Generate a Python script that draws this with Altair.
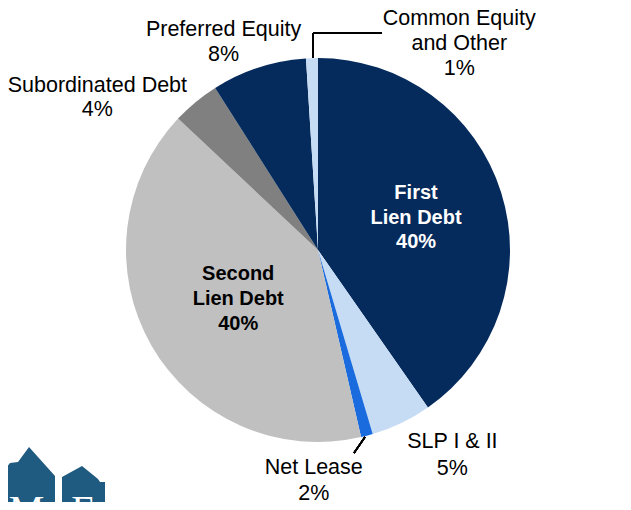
import altair as alt
import pandas as pd

# ---------------- data ----------------
categories = ["First Lien Debt", "SLP I & II", "Net Lease", "Second Lien Debt",
              "Subordinated Debt", "Preferred Equity", "Common Equity and Other"]
shares = [40.3, 5.1, 1.0, 40.6, 4.0, 8.0, 1.0]
label_texts = ["First\nLien Debt\n40%", "SLP I & II\n5%", "Net Lease\n2%",
               "Second\nLien Debt\n40%", "Subordinated Debt\n4%",
               "Preferred Equity\n8%", "Common Equity\nand Other\n1%"]
colors = ["#052B5C", "#C6DCF5", "#1A6BDD", "#C0C0C0", "#808080", "#052B5C", "#C6DCF5"]

# decorative logo outline (bottom-left corner)
logo_x = [-8, 2, 10, 21, 47, 54, 74, 90, 92, 97]
logo_y = [468, 455, 454, 439, 468, 469, 458, 471, 474, 474]
logo_part = ["a", "a", "a", "a", "a", "b", "b", "b", "b", "b"]
logo_letters = ["M", "E"]
logo_letter_x = [18.5, 75.5]

df = pd.DataFrame({"category": categories, "share": shares,
                   "label": label_texts, "order": list(range(len(categories)))})
logo_df = pd.DataFrame({"x": logo_x, "y": logo_y, "part": logo_part})
letters_df = pd.DataFrame({"letter": logo_letters, "x": logo_letter_x})

# ---------------- layout ----------------
W, H = 615, 494
CX, CY = 310, 242
R = 192
FONT = "Liberation Sans"
total = sum(shares)
theta_scale = alt.Scale(domain=[0, total])

base = alt.Chart(df)

pie = base.mark_arc(outerRadius=R).encode(
    theta=alt.Theta("share:Q", stack=True, scale=theta_scale),
    color=alt.Color("category:N", scale=alt.Scale(domain=categories, range=colors), legend=None),
    order=alt.Order("order:Q"),
    x=alt.value(CX),
    y=alt.value(CY),
)


def label_layer(cat, radius, dx, dy, size, weight, color, lh):
    return (
        base.transform_window(cum="sum(share)", sort=[alt.SortField("order")], frame=[None, 0])
        .transform_calculate(mid="datum.cum - datum.share / 2")
        .transform_filter(alt.datum.category == cat)
        .mark_text(radius=radius, dx=dx, dy=dy, fontSize=size, fontWeight=weight,
                   color=color, lineBreak="\n", lineHeight=lh, align="center",
                   baseline="alphabetic", font=FONT)
        .encode(theta=alt.Theta("mid:Q", scale=theta_scale), text="label:N",
                x=alt.value(CX), y=alt.value(CY))
    )


labels = [
    label_layer("First Lien Debt", 108, -5, -18.5, 20, "bold", "white", 24.5),
    label_layer("Second Lien Debt", 92, 0, -15.5, 20, "bold", "black", 25),
    label_layer("SLP I & II", 215, 41, 4, 21.5, "normal", "black", 27),
    label_layer("Net Lease", 215, -59, 16, 21.5, "normal", "black", 26.5),
    label_layer("Subordinated Debt", 230, -74, 19, 21.5, "normal", "black", 24),
    label_layer("Preferred Equity", 215, -28, -9.5, 21.5, "normal", "black", 25),
    label_layer("Common Equity and Other", 215, 148, -10.5, 21.5, "normal", "black", 25),
]

# leader lines
lead1 = alt.Chart(df).mark_rule(color="black", strokeWidth=1.5).encode(
    x=alt.value(305), x2=alt.value(305), y=alt.value(50), y2=alt.value(25))
lead2 = alt.Chart(df).mark_rule(color="black", strokeWidth=1.5).encode(
    x=alt.value(305), x2=alt.value(374), y=alt.value(25), y2=alt.value(25))
lead3 = alt.Chart(df).mark_rule(color="black", strokeWidth=1.5).encode(
    x=alt.value(357), x2=alt.value(346), y=alt.value(429), y2=alt.value(445))

logo = (
    alt.Chart(logo_df)
    .transform_calculate(bottom=str(H))
    .mark_area(color="#1F5A80", interpolate="linear")
    .encode(
        x=alt.X("x:Q", scale=None, axis=None),
        y=alt.Y("y:Q", scale=None, axis=None),
        y2=alt.Y2("bottom:Q"),
        detail="part:N",
    )
)
logo_text = alt.Chart(letters_df).mark_text(
    font="Liberation Serif", fontSize=40, color="white", align="center", baseline="alphabetic"
).encode(x=alt.X("x:Q", scale=None, axis=None), y=alt.value(515), text="letter:N")

chart = alt.layer(pie, *labels, lead1, lead2, lead3, logo, logo_text).properties(
    width=W, height=H, padding=0, autosize=alt.AutoSizeParams(type="none"), background="white"
).configure_view(stroke=None)

chart.save("out.html", embed_options={"renderer": "svg", "actions": False})
